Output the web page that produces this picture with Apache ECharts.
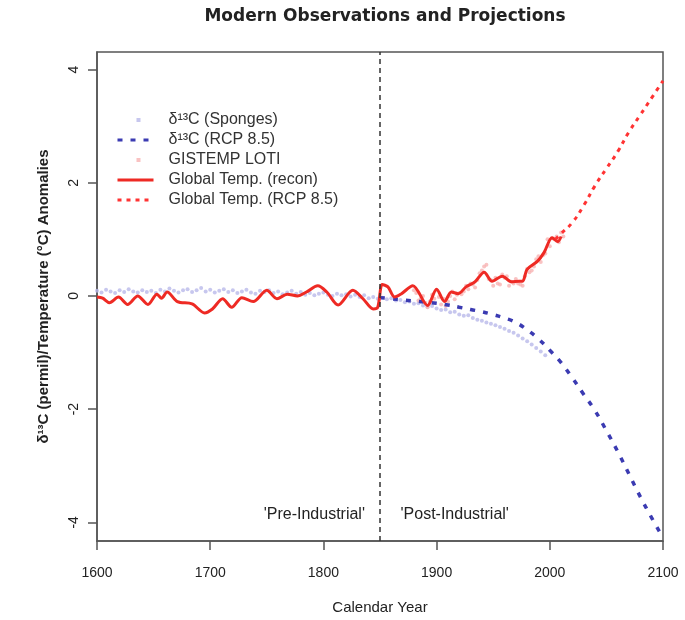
<!DOCTYPE html>
<html>
<head>
<meta charset="utf-8">
<script src="https://cdn.jsdelivr.net/npm/echarts@6/dist/echarts.min.js"></script>
<style>
body { margin: 0; background: #fff; }
#chart { width: 685px; height: 620px; }
</style>
</head>
<body>
<div id="chart"></div>
<script>
// sponge d13C points (every 4 years)
var spongeYears = [1600,1604,1608,1612,1616,1620,1624,1628,1632,1636,1640,1644,1648,1652,1656,1660,1664,1668,1672,1676,1680,1684,1688,1692,1696,1700,1704,1708,1712,1716,1720,1724,1728,1732,1736,1740,1744,1748,1752,1756,1760,1764,1768,1772,1776,1780,1784,1788,1792,1796,1800,1804,1808,1812,1816,1820,1824,1828,1832,1836,1840,1844,1848,1852,1856,1860,1864,1868,1872,1876,1880,1884,1888,1892,1896,1900,1904,1908,1912,1916,1920,1924,1928,1932,1936,1940,1944,1948,1952,1956,1960,1964,1968,1972,1976,1980,1984,1988,1992,1996];
var spongeVals = [0.09,0.06,0.11,0.08,0.05,0.10,0.07,0.12,0.08,0.06,0.10,0.07,0.09,0.05,0.11,0.08,0.13,0.09,0.06,0.10,0.12,0.07,0.10,0.14,0.08,0.11,0.06,0.09,0.12,0.07,0.10,0.05,0.08,0.11,0.06,0.04,0.09,0.07,0.10,0.05,0.08,0.03,0.06,0.09,0.04,0.07,0.02,0.05,0.01,0.04,0.06,0.02,0.00,0.04,0.01,0.03,-0.01,0.02,-0.02,0.01,-0.04,-0.02,-0.05,-0.03,-0.06,-0.04,-0.08,-0.07,-0.11,-0.10,-0.14,-0.13,-0.17,-0.19,-0.18,-0.22,-0.25,-0.24,-0.29,-0.28,-0.33,-0.35,-0.34,-0.39,-0.42,-0.44,-0.47,-0.49,-0.52,-0.55,-0.58,-0.62,-0.65,-0.70,-0.75,-0.80,-0.86,-0.92,-0.98,-1.05];

// d13C RCP 8.5 projection
var rcpBlueYears = [1850,1860,1870,1880,1890,1900,1910,1920,1930,1940,1950,1960,1970,1980,1990,2000,2010,2020,2030,2040,2050,2060,2070,2080,2090,2100];
var rcpBlueVals = [-0.03,-0.05,-0.07,-0.09,-0.11,-0.13,-0.16,-0.20,-0.24,-0.28,-0.33,-0.39,-0.47,-0.60,-0.76,-0.96,-1.18,-1.45,-1.74,-2.03,-2.38,-2.75,-3.15,-3.55,-3.92,-4.27];

// GISTEMP LOTI points
var gissYears = [1880,1882,1884,1886,1888,1890,1892,1894,1896,1898,1900,1902,1904,1906,1908,1910,1912,1914,1916,1918,1920,1922,1924,1926,1928,1930,1932,1934,1936,1938,1940,1942,1944,1946,1948,1950,1952,1954,1956,1958,1960,1962,1964,1966,1968,1970,1972,1974,1976,1978,1980,1982,1984,1986,1988,1990,1992,1994,1996,1998,2000,2002,2004,2006,2008,2010,2012];
var gissVals = [0.10,0.05,-0.08,-0.05,0.00,-0.12,-0.20,-0.10,0.02,-0.05,0.10,-0.02,-0.15,-0.05,-0.18,-0.10,0.00,0.08,-0.06,0.02,0.05,0.03,0.08,0.18,0.12,0.22,0.20,0.15,0.28,0.40,0.45,0.52,0.55,0.30,0.28,0.18,0.32,0.22,0.20,0.38,0.32,0.35,0.18,0.25,0.22,0.30,0.22,0.20,0.18,0.35,0.48,0.42,0.45,0.52,0.65,0.70,0.60,0.72,0.75,1.00,0.88,1.02,1.00,1.05,0.95,1.12,1.05];

// global temperature reconstruction
var reconYears = [1600,1605,1611,1619,1627,1636,1645,1653,1657,1662,1671,1684,1695,1702,1711,1719,1728,1738,1750,1759,1768,1777,1785,1795,1803,1813,1826,1835,1844,1848,1852,1857,1863,1869,1879,1892,1900,1907,1913,1919,1926,1934,1942,1949,1958,1966,1973,1976,1980,1989,1995,2002,2007,2010];
var reconVals = [-0.02,-0.04,-0.12,-0.02,-0.15,0.00,-0.15,0.03,-0.04,0.07,-0.10,-0.14,-0.30,-0.23,-0.05,-0.20,-0.03,-0.10,0.10,-0.05,0.03,0.00,0.07,0.18,0.07,-0.16,0.10,-0.05,-0.23,-0.20,0.20,0.16,-0.02,0.04,0.18,-0.17,0.12,-0.10,0.07,0.04,0.16,0.25,0.42,0.26,0.35,0.25,0.26,0.26,0.47,0.61,0.77,1.03,0.96,1.05];

// global temperature RCP 8.5 projection
var rcpRedYears = [2005,2010,2020,2030,2040,2050,2060,2070,2080,2090,2100];
var rcpRedVals = [1.00,1.10,1.30,1.60,1.95,2.25,2.55,2.90,3.20,3.50,3.80];

var yTicks = [-4, -2, 0, 2, 4];
var dividerYear = 1850;
var periodLabels = ["'Pre-Industrial'", "'Post-Industrial'"];

function pairs(xs, ys) {
    return xs.map(function (x, i) { return [x, ys[i]]; });
}

var dotIcon = 'path://M0,0h0.01v0.01h-0.01z M36,14h0.01v0.01h-0.01z M19,5h4v4h-4z';
var noSymbol = { opacity: 0 };
var font = 'Liberation Sans, Arial, sans-serif';

var chart = echarts.init(document.getElementById('chart'));
var option = {
    animation: false,
    title: {
        text: 'Modern Observations and Projections',
        left: 380,
        textAlign: 'center',
        top: 3,
        textStyle: { fontFamily: 'DejaVu Sans', fontWeight: 'bold', fontSize: 17, color: '#222' }
    },
    grid: {
        left: 97, right: 22, top: 52, bottom: 65,
        show: true, borderColor: '#555', borderWidth: 1.5
    },
    legend: {
        orient: 'vertical',
        left: 111,
        top: 107,
        itemWidth: 36,
        itemHeight: 14,
        itemGap: 4,
        textStyle: { fontFamily: font, fontSize: 16, lineHeight: 14, color: '#333', padding: [0, 0, 0, 10] },
        data: [
            { name: 'δ¹³C (Sponges)', icon: dotIcon },
            { name: 'δ¹³C (RCP 8.5)', itemStyle: noSymbol, lineStyle: { width: 3 } },
            { name: 'GISTEMP LOTI', icon: dotIcon },
            { name: 'Global Temp. (recon)', itemStyle: noSymbol, lineStyle: { width: 3 } },
            { name: 'Global Temp. (RCP 8.5)', itemStyle: noSymbol, lineStyle: { width: 3 } }
        ]
    },
    xAxis: {
        type: 'value',
        min: 1600,
        max: 2100,
        interval: 100,
        name: 'Calendar Year',
        nameLocation: 'middle',
        nameGap: 59,
        nameTextStyle: { fontFamily: font, fontSize: 15, color: '#222' },
        axisLine: { show: true, onZero: false, lineStyle: { color: '#555', width: 1.5 } },
        axisTick: { show: true, length: 9, lineStyle: { color: '#555', width: 1.5 } },
        axisLabel: {
            fontFamily: font, fontSize: 14, color: '#222', margin: 25,
            formatter: function (v) { return String(v); }
        },
        splitLine: { show: false }
    },
    yAxis: {
        type: 'value',
        min: -4.33,
        max: 4.31,
        name: 'δ¹³C (permil)/Temperature (°C) Anomalies',
        nameLocation: 'middle',
        nameGap: 46,
        nameTextStyle: { fontFamily: font, fontSize: 15, fontWeight: 'bold', color: '#222' },
        axisLine: { show: true, lineStyle: { color: '#555', width: 1.5 } },
        axisTick: { show: true, length: 9, customValues: yTicks, lineStyle: { color: '#555', width: 1.5 } },
        axisLabel: { fontFamily: font, fontSize: 14, color: '#222', rotate: 90, margin: 16, customValues: yTicks },
        splitLine: { show: false }
    },
    series: [
        {
            name: 'δ¹³C (Sponges)',
            type: 'scatter',
            data: pairs(spongeYears, spongeVals),
            symbol: 'circle',
            symbolSize: 4,
            itemStyle: { color: '#b9b9ea' },
            z: 1
        },
        {
            name: 'GISTEMP LOTI',
            type: 'scatter',
            data: pairs(gissYears, gissVals),
            symbol: 'circle',
            symbolSize: 4,
            itemStyle: { color: '#f7b3b3' },
            z: 1
        },
        {
            name: 'δ¹³C (RCP 8.5)',
            type: 'line',
            data: pairs(rcpBlueYears, rcpBlueVals),
            smooth: true,
            symbol: 'none',
            itemStyle: { color: '#3b3bb2' },
            lineStyle: { color: '#3b3bb2', width: 3.5, type: [5, 8] },
            z: 2
        },
        {
            name: 'Global Temp. (recon)',
            type: 'line',
            data: pairs(reconYears, reconVals),
            smooth: 0.3,
            symbol: 'none',
            itemStyle: { color: '#ee2a24' },
            lineStyle: { color: '#ee2a24', width: 3 },
            z: 3,
            markLine: {
                silent: true,
                symbol: ['none', 'none'],
                label: { show: false },
                lineStyle: { color: '#333', width: 1.5, type: [5, 4] },
                data: [{ xAxis: dividerYear }]
            },
            markPoint: {
                silent: true,
                symbol: 'circle',
                symbolSize: 0,
                label: { show: true, position: 'inside', fontFamily: font, fontSize: 16, color: '#222' },
                data: [
                    { coord: [1792, -3.86], label: { formatter: periodLabels[0] } },
                    { coord: [1916, -3.86], label: { formatter: periodLabels[1] } }
                ]
            }
        },
        {
            name: 'Global Temp. (RCP 8.5)',
            type: 'line',
            data: pairs(rcpRedYears, rcpRedVals),
            smooth: true,
            symbol: 'none',
            itemStyle: { color: '#ff3333' },
            lineStyle: { color: '#ff3333', width: 3, type: [4, 5] },
            z: 3
        }
    ]
};
chart.setOption(option);
</script>
</body>
</html>
